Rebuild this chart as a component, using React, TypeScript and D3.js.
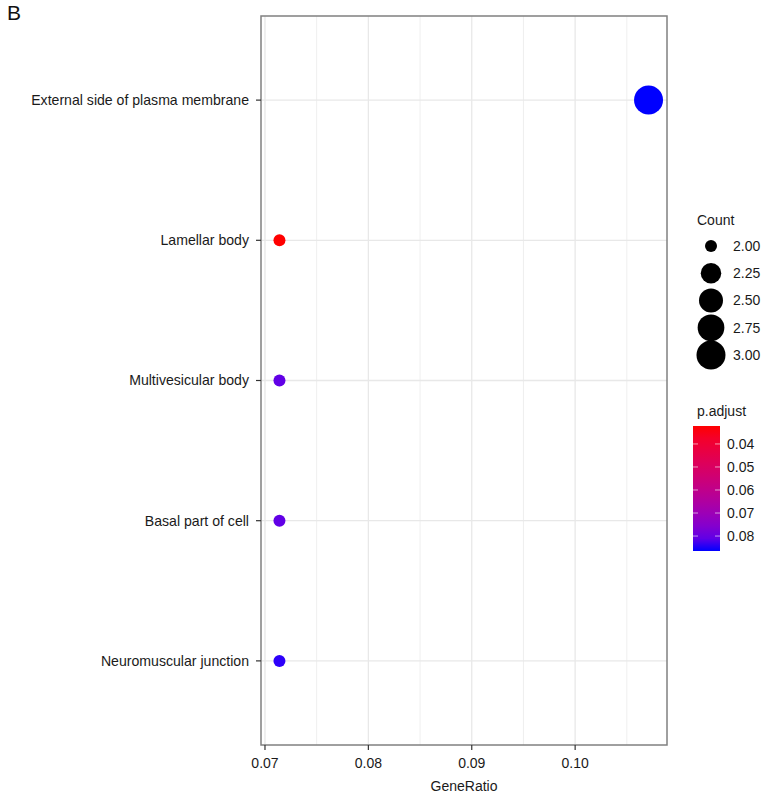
import React from "react";
import * as d3 from "d3";

const categories = [
  "External side of plasma membrane",
  "Lamellar body",
  "Multivesicular body",
  "Basal part of cell",
  "Neuromuscular junction",
];
const geneRatio = [0.1071, 0.0714, 0.0714, 0.0714, 0.0714];
const counts = [3, 2, 2, 2, 2];
const pAdjust = [0.0865, 0.0322, 0.081, 0.081, 0.0853];
const xTicks = [0.07, 0.08, 0.09, 0.1];
const xTickLabels = ["0.07", "0.08", "0.09", "0.10"];
const xMinor = [0.075, 0.085, 0.095, 0.105];
const countLegend = [2.0, 2.25, 2.5, 2.75, 3.0];
const pTicks = [0.04, 0.05, 0.06, 0.07, 0.08];

const W = 765;
const H = 795;
const FONT = "'Liberation Sans', Arial, Helvetica, sans-serif";

export default function App() {
  const left = 261, right = 667, top = 16, bottom = 745;
  const xMin = d3.min(geneRatio)!, xMax = d3.max(geneRatio)!;
  const xPad = (xMax - xMin) * 0.05;
  const x = d3.scaleLinear().domain([xMin - xPad, xMax + xPad]).range([left, right]);
  const y = d3
    .scaleLinear()
    .domain([0.4, categories.length + 0.6])
    .range([top, bottom]);
  const yCat = (i: number) => y(i + 1);

  const pMin = d3.min(pAdjust)!, pMax = d3.max(pAdjust)!;
  const interp = d3.interpolateLab("red", "blue");
  const color = d3.scaleSequential(interp).domain([pMin, pMax]);

  const cMin = d3.min(counts)!, cMax = d3.max(counts)!;
  const tScale = d3.scaleLinear().domain([cMin, cMax]).range([0, 1]);
  const rOf = (c: number) => 6 + 8.5 * Math.sqrt(tScale(c));

  // legends
  const cbTop = 426, cbBottom = 551, cbLeft = 693, cbRight = 720;
  const cbScale = d3.scaleLinear().domain([pMin, pMax]).range([cbTop, cbBottom]);
  const sizeLegY = d3.scaleLinear().domain([0, 4]).range([246, 355]);
  const stops = d3.range(0, 1.0001, 0.1);

  return (
    <svg
      width={W}
      height={H}
      style={{ position: "absolute", left: 0, top: 0, background: "#fff" }}
      fontFamily={FONT}
    >
      <defs>
        <linearGradient id="pgrad" x1="0" y1="0" x2="0" y2="1">
          {stops.map((s, i) => (
            <stop key={i} offset={s} stopColor={interp(s)} />
          ))}
        </linearGradient>
      </defs>
      <rect x={0} y={0} width={W} height={H} fill="#fff" />
      <text x={7} y={20} fontSize={21} fill="#111">B</text>

      {/* grid */}
      {xMinor.map((v, i) => (
        <line key={"mn" + i} x1={x(v)} x2={x(v)} y1={top} y2={bottom} stroke="#efefef" strokeWidth={1} />
      ))}
      {xTicks.map((v, i) => (
        <line key={"mj" + i} x1={x(v)} x2={x(v)} y1={top} y2={bottom} stroke="#e8e8e8" strokeWidth={1.3} />
      ))}
      {categories.map((c, i) => (
        <line key={"hg" + i} x1={left} x2={right} y1={yCat(i)} y2={yCat(i)} stroke="#e8e8e8" strokeWidth={1.3} />
      ))}

      {/* points */}
      {categories.map((c, i) => (
        <circle key={"pt" + i} cx={x(geneRatio[i])} cy={yCat(i)} r={rOf(counts[i])} fill={color(pAdjust[i])} />
      ))}

      {/* border */}
      <rect x={left} y={top} width={right - left} height={bottom - top} fill="none" stroke="#808080" strokeWidth={1.5} />

      {/* y axis */}
      {categories.map((c, i) => (
        <g key={"yl" + i}>
          <line x1={left - 5} x2={left} y1={yCat(i)} y2={yCat(i)} stroke="#333" strokeWidth={1.2} />
          <text x={left - 12} y={yCat(i)} dy="0.35em" textAnchor="end" fontSize={14.1} fill="#1a1a1a">
            {c}
          </text>
        </g>
      ))}

      {/* x axis */}
      {xTicks.map((v, i) => (
        <g key={"xl" + i}>
          <line x1={x(v)} x2={x(v)} y1={bottom} y2={bottom + 5} stroke="#333" strokeWidth={1.2} />
          <text x={x(v)} y={bottom + 18} dy="0.35em" textAnchor="middle" fontSize={14} fill="#1a1a1a">
            {xTickLabels[i]}
          </text>
        </g>
      ))}
      <text x={(left + right) / 2} y={786} dy="0.35em" textAnchor="middle" fontSize={14} fill="#1a1a1a">
        GeneRatio
      </text>

      {/* size legend */}
      <text x={697} y={220} dy="0.35em" fontSize={14} fill="#1a1a1a">Count</text>
      {countLegend.map((c, i) => (
        <g key={"sl" + i}>
          <circle cx={711} cy={sizeLegY(i)} r={rOf(c)} fill="#000" />
          <text x={733} y={sizeLegY(i)} dy="0.35em" fontSize={14} fill="#1a1a1a">
            {c.toFixed(2)}
          </text>
        </g>
      ))}

      {/* color legend */}
      <text x={697} y={411} dy="0.35em" fontSize={14} fill="#1a1a1a">p.adjust</text>
      <rect x={cbLeft} y={cbTop} width={cbRight - cbLeft} height={cbBottom - cbTop} fill="url(#pgrad)" />
      {pTicks.map((v, i) => (
        <g key={"cb" + i}>
          <line x1={cbLeft} x2={cbLeft + 5} y1={cbScale(v)} y2={cbScale(v)} stroke="#fff" strokeOpacity={0.6} strokeWidth={1} />
          <line x1={cbRight - 5} x2={cbRight} y1={cbScale(v)} y2={cbScale(v)} stroke="#fff" strokeOpacity={0.6} strokeWidth={1} />
          <text x={727} y={cbScale(v)} dy="0.35em" fontSize={14} fill="#1a1a1a">
            {v.toFixed(2)}
          </text>
        </g>
      ))}
    </svg>
  );
}
